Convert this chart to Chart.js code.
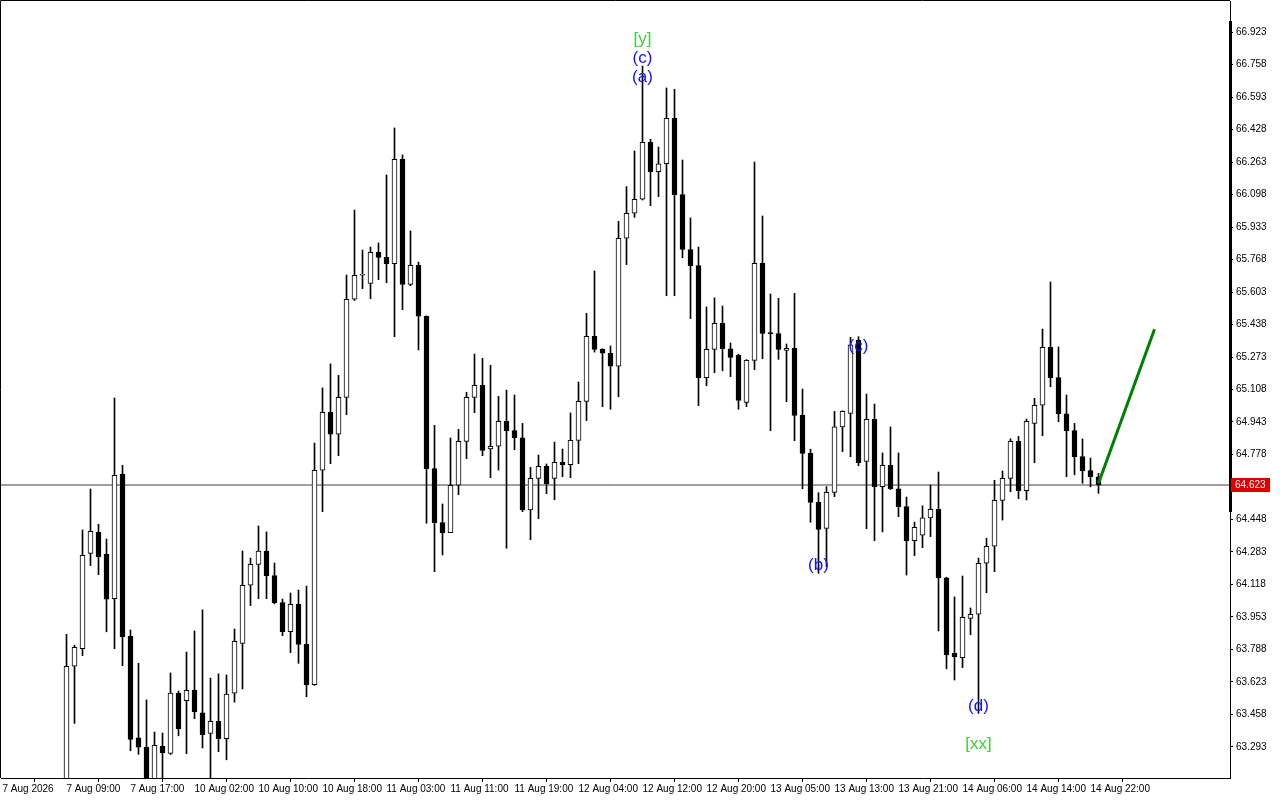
<!DOCTYPE html>
<html><head><meta charset="utf-8">
<script src="https://cdn.jsdelivr.net/npm/chart.js@4.4.1/dist/chart.umd.min.js"></script>
<style>html,body{margin:0;padding:0;background:#fff;overflow:hidden;} #wrap{width:1280px;height:800px;position:relative;}</style>
</head><body><div id="wrap"><canvas id="c"></canvas></div>
<script>
// ---- data ----
const timeIdx = [-8,0,8,16,24,32,40,48,56,64,72,80,88,96,104,112,120,128];
const timeLabels = ["7 Aug 2026","7 Aug 09:00","7 Aug 17:00","10 Aug 02:00","10 Aug 10:00","10 Aug 18:00","11 Aug 03:00","11 Aug 11:00","11 Aug 19:00","12 Aug 04:00","12 Aug 12:00","12 Aug 20:00","13 Aug 05:00","13 Aug 13:00","13 Aug 21:00","14 Aug 06:00","14 Aug 14:00","14 Aug 22:00"];
const opens = [63.05,63.703,63.792,64.276,64.383,64.271,64.046,64.677,63.855,63.339,
63.293,63.10,63.296,63.261,63.567,63.528,63.581,63.466,63.362,63.423,
63.335,63.566,63.819,64.114,64.220,64.288,64.163,64.026,63.878,64.017,
63.814,63.609,64.698,64.992,64.881,65.068,65.566,65.688,65.647,65.805,
65.779,65.747,66.277,65.642,65.739,65.480,64.706,64.432,64.381,64.622,
64.845,65.068,65.129,64.806,64.820,64.947,64.899,64.863,64.496,64.657,
64.718,64.657,64.738,64.726,64.850,65.048,65.378,65.312,65.292,65.226,
65.876,66.003,66.074,66.363,66.214,66.254,66.485,66.097,65.819,65.737,
65.168,65.312,65.444,65.315,65.282,65.043,65.256,65.749,65.393,65.392,
65.307,65.317,64.977,64.784,64.535,64.403,64.586,64.918,64.987,65.359,
64.743,64.957,64.615,64.723,64.604,64.513,64.340,64.368,64.456,64.500,
64.152,63.769,63.746,63.946,63.967,64.226,64.312,64.545,64.657,64.845,
64.594,64.936,65.028,65.322,65.168,64.985,64.899,64.767,64.696,64.665];
const highs = [63.865,63.81,64.395,64.603,64.424,64.349,65.065,64.723,63.887,63.718,
63.532,63.369,63.364,63.669,63.577,63.775,63.882,63.989,63.643,63.664,
63.659,63.892,64.288,64.252,64.415,64.385,64.227,64.044,64.075,64.090,
64.110,64.836,65.116,65.238,65.180,65.689,66.019,65.816,65.831,65.852,
66.197,66.436,66.299,65.913,65.755,65.482,64.926,64.527,64.862,64.906,
65.094,65.288,65.266,65.231,65.073,65.105,65.080,64.936,64.713,64.775,
64.730,64.841,64.806,64.989,65.146,65.495,65.710,65.315,65.329,65.962,
66.138,66.319,66.750,66.378,66.339,66.639,66.632,66.273,65.979,65.831,
65.527,65.573,65.532,65.344,65.288,65.260,66.263,65.989,65.593,65.571,
65.339,65.596,65.110,64.805,64.584,64.615,64.997,65.000,65.373,65.376,
65.085,65.034,64.786,64.918,64.786,64.562,64.435,64.517,64.623,64.689,
64.155,64.055,64.161,63.999,64.252,64.353,64.647,64.694,64.858,64.870,
64.958,65.063,65.415,65.654,65.324,65.080,64.936,64.857,64.760,64.682];
const lows = [62.98,63.413,63.757,64.214,64.168,63.878,63.792,63.706,63.274,63.256,
63.05,63.06,63.10,63.255,63.350,63.259,63.437,63.288,63.12,63.269,
63.228,63.521,63.588,64.011,64.046,64.046,64.020,63.858,63.772,63.718,
63.548,63.606,64.488,64.731,64.772,64.980,65.560,65.620,65.569,65.666,
65.650,65.376,65.513,65.635,65.309,64.429,64.183,64.268,64.381,64.574,
64.757,64.990,64.772,64.660,64.699,64.302,64.802,64.488,64.345,64.452,
64.579,64.548,64.665,64.660,64.731,64.950,65.298,65.021,65.008,65.071,
65.742,65.982,66.070,66.041,66.087,65.584,65.584,65.777,65.468,65.026,
65.127,65.193,65.203,65.173,65.008,65.021,65.209,65.264,64.899,65.261,
65.046,64.848,64.604,64.434,64.175,64.209,64.564,64.792,64.767,64.721,
64.401,64.340,64.385,64.600,64.462,64.166,64.264,64.305,64.361,63.882,
63.690,63.633,63.696,63.863,63.464,64.076,64.183,64.445,64.589,64.554,
64.547,64.736,64.873,65.122,64.944,64.665,64.675,64.632,64.614,64.581];
const closes = [63.703,63.799,64.266,64.388,64.259,64.044,64.672,63.853,63.332,63.292,
63.10,63.301,63.264,63.567,63.386,63.581,63.472,63.355,63.423,63.335,
63.562,63.830,64.114,64.220,64.288,64.163,64.026,63.878,64.017,63.814,
63.609,64.698,64.992,64.881,65.068,65.566,65.688,65.693,65.805,65.779,
65.747,66.277,65.642,65.739,65.480,64.706,64.432,64.381,64.622,64.845,
65.068,65.129,64.799,64.820,64.947,64.899,64.863,64.496,64.657,64.718,
64.630,64.738,64.726,64.850,65.048,65.378,65.312,65.292,65.226,65.876,
66.003,66.074,66.363,66.214,66.254,66.485,66.097,65.819,65.737,65.168,
65.312,65.444,65.315,65.271,65.053,65.256,65.749,65.393,65.392,65.312,
65.317,64.977,64.784,64.535,64.398,64.586,64.918,64.997,65.335,64.736,
64.957,64.615,64.723,64.604,64.513,64.340,64.408,64.456,64.500,64.152,
63.760,63.752,63.951,63.967,64.226,64.312,64.545,64.657,64.845,64.594,
64.947,65.028,65.322,65.168,64.985,64.899,64.767,64.696,64.665,64.623];
const yTicks = [63.293,63.458,63.623,63.788,63.953,64.118,64.283,64.448,64.613,64.778,64.943,65.108,65.273,65.438,65.603,65.768,65.933,66.098,66.263,66.428,66.593,66.758,66.923];
const lastPrice = 64.623;
const forecastIdx = [129, 136];
const forecastPrice = [64.632, 65.414];
const waveText  = ["[y]","(c)","(a)","(b)","(c)","(d)","[xx]"];
const waveIdx   = [72, 72, 72, 94, 99, 114, 114];
const wavePrice = [66.887, 66.791, 66.694, 64.217, 65.329, 63.501, 63.308];
const scaleBarRange = [66.98, 64.486];

// ---- layout / style ----
const W = 1280, H = 800, AXIS_W = 50, AXIS_H = 22, PAD_L = 1, PAD_T = 1;
const BAR_STEP = 8, FIRST_X = 66.5;
const areaL = PAD_L, areaR = W - AXIS_W;
const xMin = (areaL - FIRST_X) / BAR_STEP, xMax = (areaR - FIRST_X) / BAR_STEP;
const yMax = 67.0804, yMin = 63.1356;
const FONT = {family: "'Liberation Sans', Arial, sans-serif", size: 10};
const WAVE_FONT = "17px 'Liberation Sans', Arial, sans-serif";
const BLUE = '#1010ff', GREEN = '#3ccf3c';
const noPad = s => { s.paddingTop = 0; s.paddingBottom = 0; s.paddingLeft = 0; s.paddingRight = 0; };

const idx = opens.map((_, i) => i);
const overlay = {
  id: 'overlay',
  beforeDatasetsDraw(chart) {
    const {ctx, chartArea: a} = chart;
    ctx.save();
    ctx.strokeStyle = '#000'; ctx.lineWidth = 1;
    ctx.beginPath();
    ctx.moveTo(a.left - 0.5, a.bottom); ctx.lineTo(a.left - 0.5, a.top - 0.5); ctx.lineTo(a.right, a.top - 0.5);
    ctx.stroke();
    ctx.restore();
  },
  afterDraw(chart) {
    const {ctx, chartArea: a, scales: {x, y}} = chart;
    ctx.save();
    // scale bar on the price axis edge
    ctx.fillStyle = '#000';
    const t = Math.round(y.getPixelForValue(scaleBarRange[0])), b = Math.round(y.getPixelForValue(scaleBarRange[1]));
    ctx.fillRect(a.right - 1, t, 3, b - t);
    ctx.font = WAVE_FONT; ctx.textAlign = 'center'; ctx.textBaseline = 'middle';
    waveText.forEach((s, k) => {
      ctx.fillStyle = s.startsWith('[') ? GREEN : BLUE;
      ctx.fillText(s, x.getPixelForValue(waveIdx[k]), y.getPixelForValue(wavePrice[k]));
    });
    const py = Math.round(y.getPixelForValue(lastPrice));
    ctx.fillStyle = '#e00000';
    ctx.fillRect(a.right + 1, py - 7, 39, 14);
    ctx.fillStyle = '#fff'; ctx.font = "10px 'Liberation Sans', Arial, sans-serif";
    ctx.textAlign = 'left';
    ctx.fillText(lastPrice.toFixed(3), a.right + 5, py + 0.5);
    ctx.restore();
  }
};

new Chart(document.getElementById('c'), {
  type: 'bar',
  data: {
    datasets: [
      { type: 'line', order: 0, data: forecastIdx.map((v, k) => ({x: v, y: forecastPrice[k]})),
        borderColor: '#008000', borderWidth: 3, pointRadius: 0 },
      { order: 1, grouped: false, barThickness: 5, minBarLength: 1, borderSkipped: false,
        data: idx.map(i => ({x: i, y: [opens[i], closes[i]]})),
        backgroundColor: idx.map(i => closes[i] > opens[i] ? '#ffffff' : '#000000'),
        borderColor: '#000', borderWidth: 1 },
      { order: 2, grouped: false, barThickness: 1, borderWidth: 0,
        data: idx.map(i => ({x: i, y: [lows[i], highs[i]]})), backgroundColor: '#000' },
      { type: 'line', order: 3, data: [{x: xMin, y: lastPrice}, {x: xMax, y: lastPrice}],
        borderColor: '#503838', borderWidth: 1, pointRadius: 0 }
    ]
  },
  options: {
    responsive: true, maintainAspectRatio: false, animation: false, devicePixelRatio: 1,
    layout: {padding: {left: PAD_L, top: PAD_T, right: 0, bottom: 0}},
    plugins: {legend: {display: false}, tooltip: {enabled: false}},
    scales: {
      x: { type: 'linear', min: xMin, max: xMax, offset: false,
        afterBuildTicks: s => { s.ticks = timeIdx.map(v => ({value: v})); },
        afterFit: s => { s.height = AXIS_H; noPad(s); },
        ticks: { autoSkip: false, maxRotation: 0, minRotation: 0, align: 'start', padding: 1,
          font: FONT, color: '#000', callback: (v, i) => timeLabels[i] },
        grid: { drawOnChartArea: false, tickLength: 4, color: '#000' },
        border: { color: '#000' } },
      y: { type: 'linear', position: 'right', min: yMin, max: yMax,
        afterBuildTicks: s => { s.ticks = yTicks.map(v => ({value: v})); },
        afterFit: s => { s.width = AXIS_W; noPad(s); },
        ticks: { font: FONT, color: '#000', padding: 3, callback: v => Number(v).toFixed(3) },
        grid: { drawOnChartArea: false, tickLength: 3, color: '#000' },
        border: { color: '#000' } }
    }
  },
  plugins: [overlay]
});
</script></body></html>
